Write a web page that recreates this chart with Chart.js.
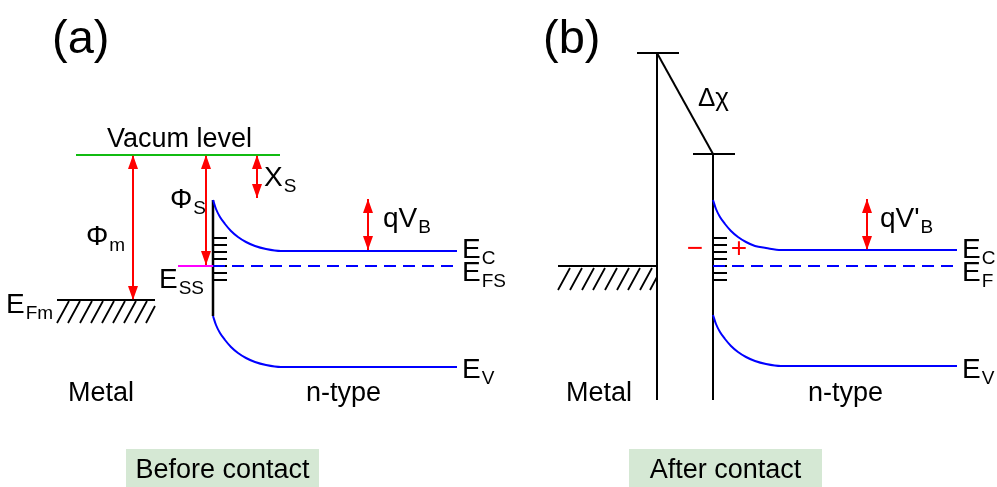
<!DOCTYPE html>
<html><head><meta charset="utf-8">
<script src="https://cdn.jsdelivr.net/npm/chart.js@4"></script>
<style>html,body{margin:0;padding:0;background:#fff}canvas{display:block}</style>
</head><body>
<canvas id="c" width="997" height="487"></canvas>
<script>
// Band diagram of a metal / n-type semiconductor junction.
// All levels are [x, y] pairs on a 997 x 487 grid, y growing downward.

// ---- (a) before contact ----
const vacuumLevelA = [[76,155],[280,155]];
const arrowPhiM    = [[133,155],[133,300]];
const arrowPhiS    = [[206,155],[206,265]];
const arrowChiS    = [[257,155],[257,198]];
const arrowQVB     = [[368,199],[368,250]];
const metalFermiA  = [[57,300],[155,300]];
const surfaceLevelA = [[178,266],[213,266]];
const interfaceA   = [[213,200],[213,316]];
const condBandA    = [[213,200],[216,209],[220,217],[225,224],[231,231],[238,237],[246,242],[255,246],[266,249],[281,251],[457,251]];
const semiFermiA   = [[213,266],[457,266]];
const valBandA     = [[213,316],[216,325],[220,333],[225,340],[231,347],[238,353],[246,358],[255,362],[266,365],[281,367],[457,367]];
const hatchA       = [[57,323,69,301],[68,323,80,301],[80,323,92,301],[91,323,103,301],[102,323,114,301],
                      [113,323,125,301],[124,323,136,301],[135,323,147,301],[146,323,155,306]];

// ---- (b) after contact ----
const metalVacTop  = [[637,53],[679,53]];
const metalWallB   = [[657,53],[657,400]];
const dipoleStep   = [[657,53],[713,154]];
const semiVacTop   = [[693,154],[735,154]];
const interfaceB   = [[713,154],[713,400]];
const metalFermiB  = [[558,266],[657,266]];
const arrowQVBp    = [[867,199],[867,250]];
const condBandB    = [[713,200],[716,209],[720,217],[725,224],[731,231],[738,237],[746,242],[755,246],[766,248],[781,250],[957,250]];
const semiFermiB   = [[713,266],[957,266]];
const valBandB     = [[713,315],[716,324],[720,332],[725,339],[731,346],[738,352],[746,357],[755,361],[766,364],[781,366],[957,366]];
const hatchB       = [[558,290,570,268],[570,290,582,268],[582,290,594,268],[593,290,605,268],[605,290,617,268],
                      [617,290,629,268],[628,290,640,268],[640,290,652,268],[650,290,657,277]];

// surface-state levels at the interface (y), ticks run from the interface wall
const surfaceStatesY = [238,245,252,259,266,273,280];
const surfaceStatesX = [213, 713];

// text: [main, subscript, x, baseline]
const labelsA = [
  ['Φ','m',86,245], ['Φ','S',170,208], ['X','S',264,186], ['E','SS',159,288], ['E','Fm',6,313],
  ['qV','B',383,227], ['E','C',462,258], ['E','FS',462,281], ['E','V',462,378]
];
const labelsB = [
  ["qV'",'B',880,227], ['E','C',962,258], ['E','F',962,281], ['E','V',962,378]
];
const plainLabels = [
  ['(a)',52,53,47], ['(b)',543,53,47], ['Vacum level',107,147,27], ['Δχ',698,106,26],
  ['Metal',68,401,27], ['n-type',306,401,27], ['Metal',566,401,27], ['n-type',808,401,27]
];
const chargeSigns = [['−',695,257],['+',739,257]];
const captions = [['Before contact',126,449,193,38],['After contact',629,449,193,38]];

const FONT = '"Liberation Sans", Arial, sans-serif';
const pts = a => a.map(([x,y]) => ({x,y}));
const segs = list => {
  const out = [];
  list.forEach(([x0,y0,x1,y1]) => { out.push({x:x0,y:y0},{x:x1,y:y1},{x:x1,y:null}); });
  return out;
};
const ticks = (x0) => segs(surfaceStatesY.map(y => [x0,y,x0+14,y]));

const line = (data, color, extra) => Object.assign({
  data: pts(data), borderColor: color, borderWidth: 2, pointRadius: 0, fill: false, tension: 0
}, extra || {});
const curve = (data) => line(data, '#0000ff', {cubicInterpolationMode: 'monotone'});
const arrow = (data) => line(data, '#ff0000', {arrows: true});

const datasets = [
  line(vacuumLevelA, '#11bb11'),
  line(metalFermiA, '#000'),
  {data: segs(hatchA), borderColor:'#000', borderWidth:1.8, pointRadius:0, spanGaps:false},
  line(surfaceLevelA, '#ff00ff'),
  line(semiFermiA, '#0000ff', {borderDash:[12,7]}),
  curve(condBandA), curve(valBandA),
  line(interfaceA, '#000', {borderWidth: 2.5}),
  {data: ticks(surfaceStatesX[0]), borderColor:'#000', borderWidth:2, pointRadius:0, spanGaps:false},
  arrow(arrowPhiM), arrow(arrowPhiS), arrow(arrowChiS), arrow(arrowQVB),

  line(metalFermiB, '#000'),
  {data: segs(hatchB), borderColor:'#000', borderWidth:1.8, pointRadius:0, spanGaps:false},
  line(semiFermiB, '#0000ff', {borderDash:[12,7]}),
  curve(condBandB), curve(valBandB),
  line(metalVacTop, '#000'), line(metalWallB, '#000'), line(dipoleStep, '#000'),
  line(semiVacTop, '#000'), line(interfaceB, '#000'),
  {data: ticks(surfaceStatesX[1]), borderColor:'#000', borderWidth:2, pointRadius:0, spanGaps:false},
  arrow(arrowQVBp)
];

const diagramPlugin = {
  id: 'diagram',
  beforeDatasetsDraw(chart) {
    const {ctx, scales:{x, y}} = chart;
    ctx.save();
    ctx.fillStyle = '#d5e8d4';
    captions.forEach(([t,bx,by,bw,bh]) => {
      const px = x.getPixelForValue(bx), py = y.getPixelForValue(by);
      ctx.fillRect(px, py, x.getPixelForValue(bx+bw)-px, y.getPixelForValue(by+bh)-py);
    });
    ctx.restore();
  },
  afterDatasetsDraw(chart) {
    const {ctx, scales:{x, y}} = chart;
    ctx.save();
    // arrowheads at both ends of every arrow dataset
    chart.data.datasets.forEach(ds => {
      if (!ds.arrows) return;
      const d = ds.data, n = d.length;
      [[d[0], d[1]], [d[n-1], d[n-2]]].forEach(([tip, from]) => {
        const tx = x.getPixelForValue(tip.x), ty = y.getPixelForValue(tip.y);
        const fx = x.getPixelForValue(from.x), fy = y.getPixelForValue(from.y);
        const ang = Math.atan2(ty-fy, tx-fx), L = 14, W = 5;
        ctx.beginPath();
        ctx.moveTo(tx, ty);
        ctx.lineTo(tx - L*Math.cos(ang) - W*Math.sin(ang), ty - L*Math.sin(ang) + W*Math.cos(ang));
        ctx.lineTo(tx - L*Math.cos(ang) + W*Math.sin(ang), ty - L*Math.sin(ang) - W*Math.cos(ang));
        ctx.closePath();
        ctx.fillStyle = ds.borderColor;
        ctx.fill();
      });
    });
    ctx.textBaseline = 'alphabetic';
    ctx.fillStyle = '#000';
    // subscripted symbols
    [...labelsA, ...labelsB].forEach(([m, s, lx, ly]) => {
      const px = x.getPixelForValue(lx), py = y.getPixelForValue(ly);
      ctx.font = '28px ' + FONT;
      ctx.textAlign = 'left';
      ctx.fillText(m, px, py);
      const w = ctx.measureText(m).width;
      ctx.font = '19px ' + FONT;
      ctx.fillText(s, px + w + 1, py + 6);
    });
    plainLabels.forEach(([t, lx, ly, size]) => {
      ctx.font = size + 'px ' + FONT;
      ctx.textAlign = 'left';
      ctx.fillText(t, x.getPixelForValue(lx), y.getPixelForValue(ly));
    });
    ctx.fillStyle = '#ff0000';
    ctx.font = '28px ' + FONT;
    ctx.textAlign = 'center';
    chargeSigns.forEach(([t, lx, ly]) => ctx.fillText(t, x.getPixelForValue(lx), y.getPixelForValue(ly)));
    ctx.fillStyle = '#000';
    ctx.font = '27px ' + FONT;
    captions.forEach(([t,bx,by,bw,bh]) => {
      ctx.fillText(t, x.getPixelForValue(bx + bw/2), y.getPixelForValue(by + 29));
    });
    ctx.restore();
  }
};

new Chart(document.getElementById('c'), {
  type: 'line',
  data: { datasets },
  options: {
    responsive: false,
    animation: false,
    layout: { padding: 0 },
    plugins: { legend: {display:false}, tooltip: {enabled:false} },
    scales: {
      x: { type: 'linear', min: 0, max: 997, display: false },
      y: { type: 'linear', min: 0, max: 487, reverse: true, display: false }
    }
  },
  plugins: [diagramPlugin]
});
</script>
</body></html>
